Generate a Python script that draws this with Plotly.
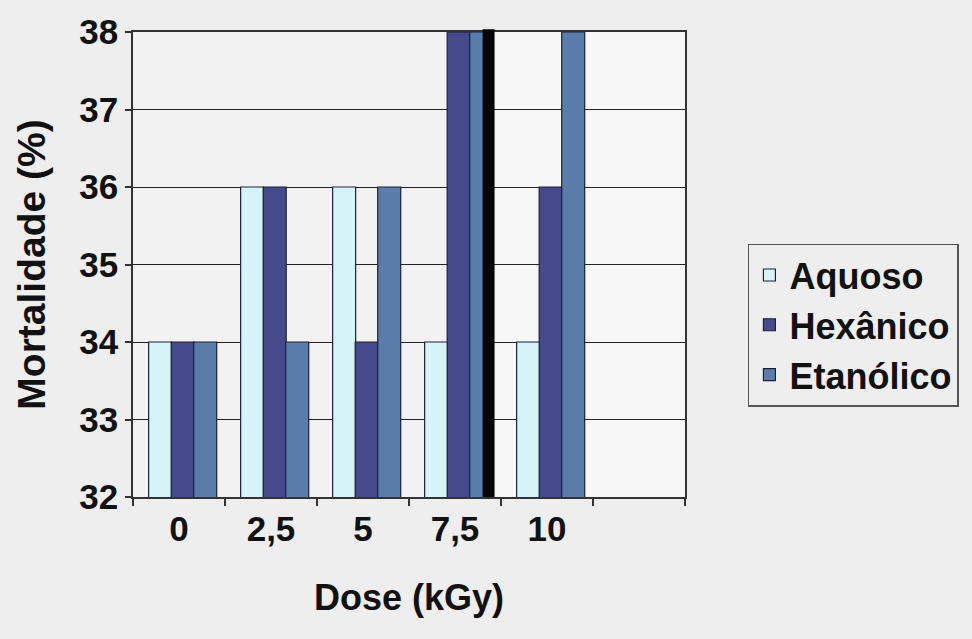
import plotly.graph_objects as go

# Dose categories (the last slot is left empty on purpose)
doses = ["0", "2,5", "5", "7,5", "10", " "]

# Mortality (%) per extract
aquoso = [34, 36, 36, 34, 34, None]
hexanico = [34, 36, 34, 38, 36, None]
etanolico = [34, 34, 36, 38, 38, None]

series_names = ["Aquoso", "Hexânico", "Etanólico"]
series_colors = ["#d6f4f8", "#454a8b", "#5a7dab"]
# bar placement inside each dose slot (category units)
bar_offsets = [-0.33, -0.085, 0.16]
bar_width = 0.25

y_ticks = [32, 33, 34, 35, 36, 37, 38]

FONT = "Liberation Sans, Arial, sans-serif"

fig = go.Figure()
for name, vals, col, off in zip(series_names, [aquoso, hexanico, etanolico],
                                series_colors, bar_offsets):
    fig.add_trace(go.Bar(
        x=doses, y=vals, name=name, offset=off, width=bar_width,
        marker=dict(color=col, line=dict(color="#1c2035", width=1.2)),
    ))

# lighter panel behind the right part of the chart
fig.add_shape(type="rect", xref="x", yref="paper", x0=3.4, x1=5.5, y0=0, y1=1,
              fillcolor="#f7f7f7", line=dict(width=0), layer="below")
# heavy dark edge between 7,5 and 10
fig.add_shape(type="rect", xref="x", yref="paper", x0=3.30, x1=3.43, y0=0, y1=1.006,
              fillcolor="#050505", line=dict(width=0), layer="above")

fig.update_layout(
    width=972, height=639,
    margin=dict(l=133, r=287, t=28, b=142),
    paper_bgcolor="#eeeeee",
    plot_bgcolor="#f2f2f2",
    barmode="group",
    font=dict(family=FONT, color="#111111", weight="bold"),
    showlegend=True,
    legend=dict(
        x=1.114, y=0.545, xanchor="left", yanchor="top",
        bgcolor="#eeeeee", bordercolor="#555555", borderwidth=1.5,
        font=dict(family=FONT, size=36, color="#111111", weight="bold"),
        itemwidth=30,
    ),
    xaxis=dict(
        type="category",
        categoryorder="array", categoryarray=doses,
        range=[-0.5, 5.5],
        tickson="boundaries",
        ticks="outside", ticklen=7, tickcolor="#333333", tickwidth=1.5,
        tickfont=dict(family=FONT, size=35, weight="bold"),
        showline=True, linecolor="#333333", linewidth=1.5, mirror=True,
        showgrid=False,
        title=dict(text="Dose (kGy)", font=dict(family=FONT, size=36, weight="bold"),
                   standoff=38),
    ),
    yaxis=dict(
        range=[32, 38],
        tickvals=y_ticks,
        ticks="outside", ticklen=6, tickcolor="#333333", tickwidth=1.5,
        tickfont=dict(family=FONT, size=35, weight="bold"),
        showline=True, linecolor="#333333", linewidth=1.5, mirror=True,
        showgrid=True, gridcolor="#222222", gridwidth=1.3,
        zeroline=False,
        title=dict(text="Mortalidade (%)", font=dict(family=FONT, size=39, weight="bold"),
                   standoff=22),
    ),
)

fig.write_html("out.html")
